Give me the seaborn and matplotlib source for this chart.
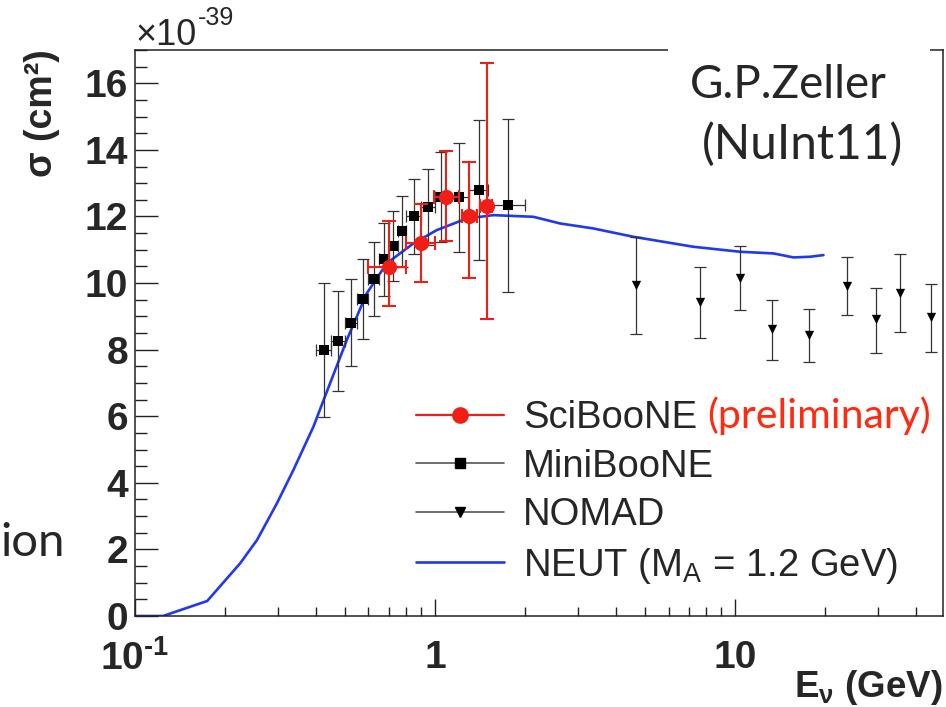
import numpy as np
import pandas as pd
import seaborn as sns
import matplotlib
matplotlib.use("Agg")
import matplotlib.pyplot as plt
from matplotlib.lines import Line2D
from matplotlib.patches import Rectangle
from matplotlib.ticker import MultipleLocator, LogLocator, NullFormatter, FixedLocator, FixedFormatter

# ---------------- data (x1e-39 cm^2) ----------------
mb_E = [0.425, 0.475, 0.525, 0.575, 0.625, 0.675, 0.725, 0.775, 0.85, 0.95, 1.05, 1.2, 1.4, 1.75]
mb_sig = [7.99, 8.27, 8.81, 9.52, 10.12, 10.71, 11.11, 11.55, 12.01, 12.29, 12.59, 12.57, 12.79, 12.34]
mb_err = [2.0, 1.5, 1.3, 1.2, 1.1, 1.1, 1.06, 1.07, 1.13, 1.15, 1.35, 1.65, 2.1, 2.6]
mb_Elo = [0.025, 0.025, 0.025, 0.025, 0.025, 0.025, 0.025, 0.025, 0.05, 0.05, 0.05, 0.1, 0.1, 0.25]

sb_E = [0.70, 0.90, 1.09, 1.30, 1.49]
sb_sig = [10.49, 11.19, 12.59, 12.01, 12.32]
sb_up = [1.38, 1.18, 1.37, 1.63, 4.28]
sb_dn = [1.17, 1.17, 1.33, 1.85, 3.39]
sb_xlo = [0.10, 0.10, 0.10, 0.07, 0.08]
sb_xhi = [0.10, 0.10, 0.11, 0.08, 0.06]

nm_E = [4.68, 7.66, 10.42, 13.31, 17.61, 23.55, 29.5, 35.4, 44.8]
nm_sig = [9.94, 9.44, 10.14, 8.61, 8.44, 9.92, 8.91, 9.71, 8.99]
nm_up = [1.45, 1.03, 0.97, 0.88, 0.77, 0.85, 0.93, 1.15, 0.98]
nm_dn = [1.48, 1.08, 0.96, 0.92, 0.80, 0.88, 1.00, 1.17, 1.05]

neut_E = [0.10, 0.124, 0.174, 0.224, 0.255, 0.297, 0.337, 0.393, 0.43, 0.508, 0.592, 0.690,
          0.847, 1.013, 1.276, 1.565, 2.127, 2.61, 3.37, 4.58, 7.26, 10.39, 13.42, 15.65, 17.78, 19.7]
neut_sig = [0.0, 0.0, 0.45, 1.58, 2.28, 3.38, 4.38, 5.68, 6.6, 8.29, 9.69, 10.59,
            11.19, 11.59, 11.94, 12.04, 11.99, 11.79, 11.64, 11.39, 11.09, 10.94, 10.89, 10.77, 10.79, 10.84]

legend_labels = ["SciBooNE", "MiniBooNE", "NOMAD", "NEUT (M$_{\\mathregular{A}}$ = 1.2 GeV)"]
x_tick_vals = [0.1, 1, 10]
x_tick_labels = ["10$^{\\mathbf{\u2010 1}}$", "1", "10"]

# ---------------- style ----------------
sns.set_style("ticks")
plt.rcParams['font.family'] = ['Liberation Sans', 'DejaVu Sans']
plt.rcParams['mathtext.fontset'] = 'custom'
plt.rcParams['mathtext.rm'] = 'Liberation Sans'
plt.rcParams['mathtext.bf'] = 'Liberation Sans:bold'
plt.rcParams['mathtext.it'] = 'Liberation Sans:italic'
plt.rcParams['mathtext.default'] = 'regular'

W, H = 946, 707
fig = plt.figure(figsize=(W / 100, H / 100), dpi=100)
L, R, T, B = 135, 943, 50, 616
ax = fig.add_axes([L / W, 1 - B / H, (R - L) / W, (B - T) / H])

RED = "#f01e14"
BLUE = "#2038f0"
GREY = "#333333"

df_neut = pd.DataFrame({"E": neut_E, "sig": neut_sig})
df_mb = pd.DataFrame({"E": mb_E, "sig": mb_sig})
df_sb = pd.DataFrame({"E": sb_E, "sig": sb_sig})
df_nm = pd.DataFrame({"E": nm_E, "sig": nm_sig})

sns.lineplot(data=df_neut, x="E", y="sig", color=BLUE, linewidth=1.9, ax=ax, zorder=2, sort=True)

ax.errorbar(mb_E, mb_sig, yerr=mb_err, xerr=mb_Elo, fmt='none', ecolor=GREY,
            elinewidth=0.9, capsize=4.3, capthick=0.9, zorder=3)
sns.scatterplot(data=df_mb, x="E", y="sig", marker='s', color='black', s=50,
                edgecolor='black', linewidth=0, ax=ax, zorder=4)

ax.errorbar(nm_E, nm_sig, yerr=[nm_dn, nm_up], fmt='none', ecolor=GREY,
            elinewidth=0.9, capsize=4.5, capthick=0.9, zorder=3)
sns.scatterplot(data=df_nm, x="E", y="sig", marker='v', color='black', s=45,
                edgecolor='black', linewidth=0, ax=ax, zorder=4)

ax.errorbar(sb_E, sb_sig, yerr=[sb_dn, sb_up], xerr=[sb_xlo, sb_xhi], fmt='none', ecolor=RED,
            elinewidth=1.5, capsize=5, capthick=1.5, zorder=5)
sns.scatterplot(data=df_sb, x="E", y="sig", marker='o', color=RED, s=120,
                edgecolor=RED, linewidth=0, ax=ax, zorder=6)

ax.set_xscale('log')
ax.set_xlim(0.1, 49.3)
ax.set_ylim(0, 17)
ax.set_xlabel("")
ax.set_ylabel("")

ax.xaxis.set_major_locator(FixedLocator(x_tick_vals))
ax.xaxis.set_major_formatter(FixedFormatter(x_tick_labels))
ax.xaxis.set_minor_locator(LogLocator(base=10, subs=np.arange(2, 10), numticks=20))
ax.xaxis.set_minor_formatter(NullFormatter())
ax.yaxis.set_major_locator(MultipleLocator(2))
ax.yaxis.set_minor_locator(MultipleLocator(0.5))

for sp in ax.spines.values():
    sp.set_linewidth(1.1)
    sp.set_color('#222222')
    sp.set_visible(True)

ax.tick_params(axis='x', which='major', direction='in', length=12.2, width=1.0, pad=17,
               labelsize=28, top=False, color='#222222')
ax.tick_params(axis='x', which='minor', direction='in', length=6.5, width=1.0, top=False, color='#222222')
ax.tick_params(axis='y', which='major', direction='in', length=16.5, width=1.0, pad=5,
               labelsize=28, right=False, color='#222222')
ax.tick_params(axis='y', which='minor', direction='in', length=8.5, width=1.0, right=False, color='#222222')
for lab in ax.get_xticklabels() + ax.get_yticklabels():
    lab.set_fontweight('bold')

# exponent label
fig.text(135 / W, 1 - 45 / H, "\u00d710", fontsize=26, ha='left', va='baseline')
fig.text(198 / W, 1 - 25 / H, "-39", fontsize=18, ha='left', va='baseline')

# axis titles
fig.text(42 / W, 1 - 113 / H, "\u03c3 (cm\u00b2)", rotation=90, fontsize=27, fontweight='bold',
         ha='center', va='center')
fig.text(943 / W, 1 - 697 / H, "E$_{\\mathbf{\\nu}}$ (GeV)", fontsize=26.5, fontweight='bold',
         ha='right', va='baseline')

# legend
handles = [
    Line2D([], [], color=RED, lw=1.6, marker='o', markersize=12, markeredgewidth=0),
    Line2D([], [], color='#555555', lw=1.2, marker='s', markerfacecolor='black',
           markeredgecolor='black', markersize=7),
    Line2D([], [], color='#555555', lw=1.2, marker='v', markerfacecolor='black',
           markeredgecolor='black', markersize=7),
    Line2D([], [], color=BLUE, lw=1.9),
]
leg = ax.legend(handles, legend_labels, loc='upper left', frameon=False, fontsize=27.5,
                bbox_to_anchor=(416 / W, 1 - 400 / H), bbox_transform=fig.transFigure,
                borderpad=0, borderaxespad=0, handlelength=2.3, handletextpad=0.5,
                labelspacing=0.33)

# slide annotations
fig.text(707 / W, 1 - 416 / H, "(preliminary)", fontsize=29.5, color="#ff2a10",
         family=['Lato', 'DejaVu Sans'], ha='left', va='center')
fig.patches.append(Rectangle((668 / W, 1 - 60 / H), (930 - 668) / W, 20 / H,
                             transform=fig.transFigure, facecolor='white', edgecolor='none', zorder=10))
fig.text(690 / W, 1 - 85 / H, "G.P.Zeller", fontsize=33, family=['Lato', 'DejaVu Sans'],
         ha='left', va='center', zorder=11)
fig.text(702 / W, 1 - 145 / H, "(NuInt11)", fontsize=34.5, family=['Lato', 'DejaVu Sans'],
         ha='left', va='center', zorder=11)
fig.text(0, 1 - 543 / H, "ion", fontsize=34, family=['Lato', 'DejaVu Sans'],
         ha='left', va='center')

fig.savefig("out.png", dpi=100)
